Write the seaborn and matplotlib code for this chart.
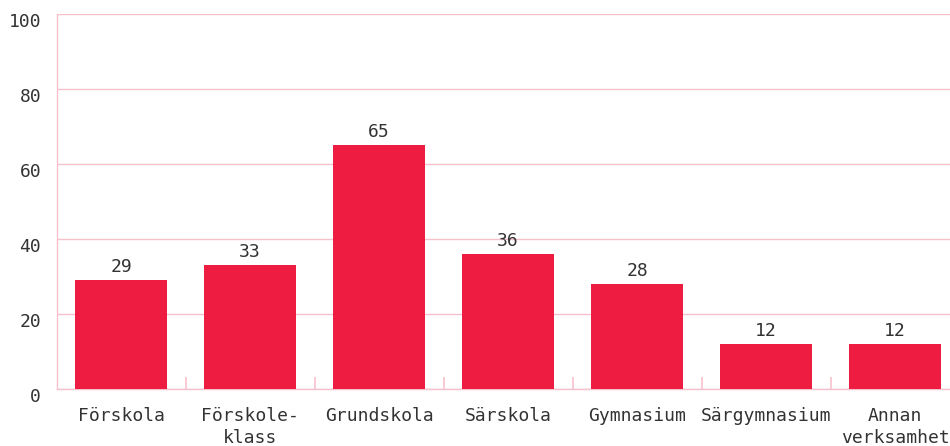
import matplotlib
matplotlib.use("Agg")
import matplotlib.pyplot as plt
import matplotlib.transforms as mtransforms
import seaborn as sns
import pandas as pd

categories = ["Förskola", "Förskole-\nklass", "Grundskola", "Särskola",
              "Gymnasium", "Särgymnasium", "Annan\nverksamhet"]
values = [29, 33, 65, 36, 28, 12, 12]
yticks = [0, 20, 40, 60, 80, 100]

BAR = "#ee1c40"
GRID = "#f7c1cc"
TEXT = "#333333"

sns.set_style("white")
plt.rcParams["font.family"] = ["DejaVu Sans Mono", "DejaVu Sans"]

fig = plt.figure(figsize=(9.5, 4.46), dpi=100)
ax = fig.add_axes([56.5 / 950, (446 - 389) / 446, (959.5 - 56.5) / 950, (389 - 14) / 446])

df = pd.DataFrame({"cat": categories, "val": values})
sns.barplot(data=df, x="cat", y="val", color=BAR, saturation=1, width=0.72,
            linewidth=0, ax=ax, zorder=3)

ax.set_xlim(-0.5, len(categories) - 0.5)
ax.set_ylim(0, 100)
ax.set_yticks(yticks)
ax.set_yticklabels([str(t) for t in yticks])
ax.set_xlabel("")
ax.set_ylabel("")

ax.grid(axis="y", color=GRID, linewidth=1, zorder=0)
ax.grid(axis="x", visible=False)
for side in ["top", "right"]:
    ax.spines[side].set_visible(False)
for side in ["left", "bottom"]:
    ax.spines[side].set_color(GRID)
    ax.spines[side].set_linewidth(1)

ax.tick_params(axis="both", which="major", length=0, labelsize=13, colors=TEXT)
ax.tick_params(axis="x", pad=13)
ax.tick_params(axis="y", pad=11)
ax.set_xticks([i + 0.5 for i in range(len(categories) - 1)], minor=True)
ax.tick_params(axis="x", which="minor", bottom=True, direction="in", length=9,
               color=GRID, width=1.2)

for lab in ax.get_xticklabels():
    lab.set_linespacing(1.3)
    lab.set_va("top")
offset = mtransforms.ScaledTranslation(0, -6 / 100, fig.dpi_scale_trans)
for lab in ax.get_yticklabels():
    lab.set_transform(lab.get_transform() + offset)

for container in ax.containers:
    ax.bar_label(container, labels=[str(v) for v in values], padding=3,
                 fontsize=13, color=TEXT)

fig.savefig("out.png", dpi=100)
